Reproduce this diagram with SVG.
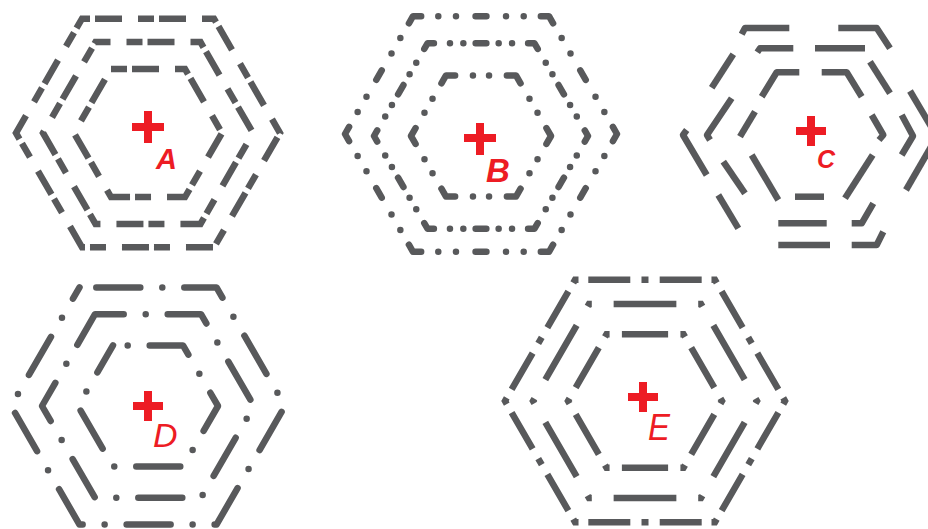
<svg xmlns="http://www.w3.org/2000/svg" width="928" height="529" viewBox="0 0 928 529">
<style>
.h{fill:none;stroke:#58595b;stroke-width:6.5}
.sa{stroke-linecap:butt;stroke-linejoin:miter;stroke-dasharray:27 16 16 5}
.sb{stroke-linecap:round;stroke-linejoin:round}
.sc{stroke-linecap:butt;stroke-linejoin:round}
.sd{stroke-linecap:round;stroke-linejoin:round;stroke-dasharray:44 22 0 22}
.se{stroke-linecap:butt;stroke-linejoin:miter;stroke-miterlimit:4}
.x{fill:none;stroke:#ed1c24;stroke-width:8;stroke-linecap:butt}
.lb{fill:#ed1c24;font-family:"Liberation Sans",Arial,sans-serif;font-style:italic;font-weight:bold}
.ln{fill:#ed1c24;font-family:"Liberation Sans",Arial,sans-serif;font-style:italic;font-weight:normal}
</style>
<rect width="928" height="529" fill="#ffffff"/>
<g id="hexA">
<path class="h sa" stroke-dashoffset="51" d="M82,18.7 L214,18.7 L280,133 L214,247.3 L82,247.3 L16,133 Z"/>
<path class="h sa" stroke-dashoffset="12" d="M95.5,42.1 L200.5,42.1 L253,133 L200.5,223.9 L95.5,223.9 L43,133 Z"/>
<path class="h sa" stroke-dashoffset="43" d="M111,68.9 L185,68.9 L222,133 L185,197.1 L111,197.1 L74,133 Z"/>
<path class="x" d="M132,127 H164 M148,111 V143"/>
<text class="lb" x="156" y="169" font-size="29">A</text>
</g>
<g id="hexB">
<path class="h sb" pathLength="600" stroke-dasharray="12 12.6 0 13 0 14.4 8 14.4 0 13 0 12.6" stroke-dashoffset="6" d="M413,16.2 L549,16.2 L617,134 L549,251.8 L413,251.8 L345,134 Z"/>
<path class="h sb" pathLength="600" stroke-dasharray="12 15 0 12.5 0 11.5 10 11.5 0 12.5 0 15" stroke-dashoffset="6" d="M427.5,43.3 L534.5,43.3 L588,136 L534.5,228.7 L427.5,228.7 L374,136 Z"/>
<path class="h sb" pathLength="600" stroke-dasharray="26 25.5 0 23 0 25.5" stroke-dashoffset="13" d="M446,75.4 L516,75.4 L551,136 L516,196.6 L446,196.6 L411,136 Z"/>
<path class="x" d="M464,138 H496 M480,123 V155"/>
<text class="lb" x="486" y="182" font-size="33">B</text>
</g>
<g id="hexC" class="h sc">
<path d="M741.7,34.3 L745,28 L789.3,28"/>
<path d="M838.3,28 L876.7,28 L890,48.3"/>
<path d="M733.3,54.3 L711.7,87.7"/>
<path d="M686.7,130 L683,135 L706.7,175"/>
<path d="M718.3,195 L738.3,228.3"/>
<path d="M778.3,245 L830,245"/>
<path d="M851.7,245 L876.7,245 L883.3,231.7"/>
<path d="M906,190 L932,145"/>
<path d="M910,91 L932,128"/>
<path d="M757.3,52.3 L760,48.3 L793.3,48.3"/>
<path d="M815,48.3 L865,48.3"/>
<path d="M870,61.7 L890,93.3"/>
<path d="M901.7,115 L913,136 L901.7,155"/>
<path d="M873.3,203.3 L861.7,223.3 L851.7,223.3"/>
<path d="M826.7,223.3 L778.3,223.3"/>
<path d="M745,193.3 L723.3,161.7"/>
<path d="M710,140 L707,135 L731.7,98.3"/>
<path d="M761.7,96.7 L776.7,72.3 L799.3,72.3"/>
<path d="M821.7,72.3 L846.7,72.3 L861.7,96.7"/>
<path d="M871.7,115 L883.3,135 L879,140"/>
<path d="M872.7,155 L845,198.3"/>
<path d="M824,196.7 L795,196.7"/>
<path d="M778.3,200 L751.7,155"/>
<path d="M740,136.7 L755,111.7"/>
</g>
<g id="labelC">
<path class="x" d="M796,131 H826 M811,116 V146"/>
<text class="lb" x="817" y="168" font-size="25">C</text>
</g>
<g id="hexD">
<path class="h sd" stroke-dashoffset="71.2" d="M79.5,287.4 L216.5,287.4 L285,406 L216.5,524.6 L79.5,524.6 L11,406 Z"/>
<path class="h sd" stroke-dashoffset="15.3" d="M95,314.2 L201,314.2 L254,406 L201,497.8 L95,497.8 L42,406 Z"/>
<path class="h sd" stroke-dashoffset="51.3" d="M113,345.4 L183,345.4 L218,406 L183,466.6 L113,466.6 L78,406 Z"/>
<path class="x" d="M133,406 H163 M148,391 V421"/>
<text class="ln" x="153" y="447" font-size="34">D</text>
</g>
<g id="hexE">
<path class="h se" pathLength="600" stroke-dasharray="5 7 30 8 5 8 30 7" stroke-dashoffset="2.5" d="M575,279.8 L715,279.8 L785,401 L715,522.2 L575,522.2 L505,401 Z"/>
<path class="h se" pathLength="600" stroke-dasharray="5 19.5 56 19.5" stroke-dashoffset="2.5" d="M589,304 L701,304 L757,401 L701,498 L589,498 L533,401 Z"/>
<path class="h se" pathLength="600" stroke-dasharray="8 16 60 16" stroke-dashoffset="4" d="M606.5,334.3 L683.5,334.3 L722,401 L683.5,467.7 L606.5,467.7 L568,401 Z"/>
<path class="x" d="M628,397 H658 M643,382 V412"/>
<text class="ln" x="648" y="440" font-size="36" textLength="22" lengthAdjust="spacingAndGlyphs">E</text>
</g>
</svg>
